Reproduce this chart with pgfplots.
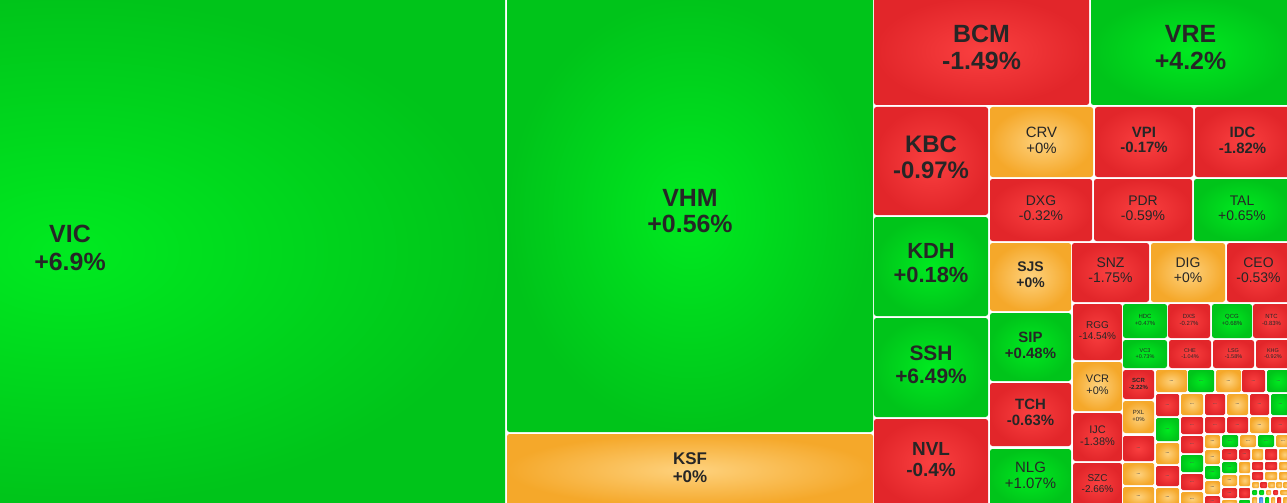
\documentclass[border=0pt]{standalone}
\usepackage{pgfplots}
\pgfplotsset{compat=1.18}
\usepackage{fontspec}
\setmainfont{Liberation Sans}
\definecolor{Gin}{RGB}{0,234,32}
\definecolor{Gout}{RGB}{0,196,26}
\definecolor{Rin}{RGB}{250,64,64}
\definecolor{Rout}{RGB}{226,38,42}
\definecolor{Oin}{RGB}{254,210,126}
\definecolor{Oout}{RGB}{245,168,42}
\definecolor{Bin}{RGB}{110,180,250}
\definecolor{Bout}{RGB}{60,140,230}
\definecolor{txt}{RGB}{38,38,38}
% tile: x1 y1 x2 y2 colour size skip weight label
\newcommand{\T}[9]{%
  \addplot[draw=none, shade, shading=radial, inner color=#5in, outer color=#5out, rounded corners=2.5]
    coordinates {(#1,#2) (#3,#2) (#3,#4) (#1,#4)} -- cycle;
  \path (axis cs:#1,#2) -- (axis cs:#3,#4) node[midway, align=center, text=txt, inner sep=0pt,
    yshift=#6*0.14pt, font=\fontsize{#6}{#7}\selectfont#8] {#9};}
% small tile with dots
\newcommand{\D}[5]{%
  \addplot[draw=none, shade, shading=radial, inner color=#5in, outer color=#5out, rounded corners=1.5]
    coordinates {(#1,#2) (#3,#2) (#3,#4) (#1,#4)} -- cycle;
  \path (axis cs:#1,#2) -- (axis cs:#3,#4) node[midway, text=txt!80, inner sep=0pt,
    font=\fontsize{4.5}{5}\selectfont\bfseries] {...};}
% tiny tile, no label
\newcommand{\E}[5]{%
  \addplot[draw=none, shade, shading=radial, inner color=#5in, outer color=#5out, rounded corners=1]
    coordinates {(#1,#2) (#3,#2) (#3,#4) (#1,#4)} -- cycle;}
\begin{document}
\begin{tikzpicture}
\begin{axis}[scale only axis, width=1287bp, height=503bp,
  xmin=0, xmax=1287, ymin=0, ymax=503, y dir=reverse, hide axis, clip=true]
\addplot[fill=white, draw=none] coordinates {(0,0) (1287,0) (1287,503) (0,503)} -- cycle;
% large tiles
\T{-365}{-3}{505}{506}{G}{25}{28}{\bfseries}{VIC\\+6.9\%}
\T{507}{-3}{873}{432}{G}{25}{27}{\bfseries}{VHM\\+0.56\%}
\T{507}{434}{873}{506}{O}{17}{18}{\bfseries}{KSF\\+0\%}
\T{874}{-3}{1089}{105}{R}{25}{27}{\bfseries}{BCM\\-1.49\%}
\T{1091}{-3}{1290}{105}{G}{25}{27}{\bfseries}{VRE\\+4.2\%}
\T{874}{107}{988}{215}{R}{24}{26}{\bfseries}{KBC\\-0.97\%}
\T{874}{217}{988}{316}{G}{22}{24}{\bfseries}{KDH\\+0.18\%}
\T{874}{318}{988}{417}{G}{21}{23}{\bfseries}{SSH\\+6.49\%}
\T{874}{419}{988}{506}{R}{19}{21}{\bfseries}{NVL\\-0.4\%}
% medium tiles
\T{990}{107}{1093}{177}{O}{15}{16}{}{CRV\\+0\%}
\T{1095}{107}{1193}{177}{R}{15}{16}{\bfseries}{VPI\\-0.17\%}
\T{1195}{107}{1290}{177}{R}{15}{16}{\bfseries}{IDC\\-1.82\%}
\T{990}{179}{1092}{241}{R}{14}{15}{}{DXG\\-0.32\%}
\T{1094}{179}{1192}{241}{R}{14}{15}{}{PDR\\-0.59\%}
\T{1194}{179}{1290}{241}{G}{14}{15}{}{TAL\\+0.65\%}
\T{990}{243}{1071}{311}{O}{14}{16}{\bfseries}{SJS\\+0\%}
\T{1072}{243}{1149}{302}{R}{14}{15}{}{SNZ\\-1.75\%}
\T{1151}{243}{1225}{302}{O}{14}{15}{}{DIG\\+0\%}
\T{1227}{243}{1290}{302}{R}{14}{15}{}{CEO\\-0.53\%}
\T{990}{313}{1071}{381}{G}{15}{16}{\bfseries}{SIP\\+0.48\%}
\T{990}{383}{1071}{446}{R}{15}{16}{\bfseries}{TCH\\-0.63\%}
\T{990}{449}{1071}{506}{G}{15}{16}{}{NLG\\+1.07\%}
% small tiles
\T{1073}{304}{1122}{360}{R}{10}{11}{}{RGG\\-14.54\%}
\T{1123}{304}{1167}{338}{G}{6}{7}{}{HDC\\+0.47\%}
\T{1168}{304}{1210}{338}{R}{6}{7}{}{DXS\\-0.27\%}
\T{1212}{304}{1252}{338}{G}{6}{7}{}{QCG\\+0.68\%}
\T{1253}{304}{1290}{338}{R}{6}{7}{}{NTC\\-0.83\%}
\T{1123}{340}{1167}{368}{G}{5.5}{6}{}{VC3\\+0.73\%}
\T{1169}{340}{1211}{368}{R}{5.5}{6}{}{CHE\\-1.04\%}
\T{1213}{340}{1254}{368}{R}{5.5}{6}{}{LSG\\-1.58\%}
\T{1256}{340}{1290}{368}{R}{5.5}{6}{}{KHG\\-0.92\%}
\T{1073}{362}{1122}{411}{O}{11}{12}{}{VCR\\+0\%}
\T{1073}{413}{1122}{461}{R}{11}{12}{}{IJC\\-1.38\%}
\T{1073}{463}{1122}{506}{R}{10}{11}{}{SZC\\-2.66\%}
\T{1123}{370}{1154}{399}{R}{6}{7}{\bfseries}{SCR\\-2.22\%}
\T{1123}{401}{1154}{433}{O}{6}{7}{}{PXL\\+0\%}
\D{1123}{436}{1154}{461}{R}
\D{1123}{463}{1154}{485}{O}
\D{1123}{487}{1154}{506}{O}
% row 370-392
\D{1156}{370}{1187}{392}{O}
\D{1188}{370}{1214}{392}{G}
\D{1216}{370}{1241}{392}{O}
\D{1242}{370}{1265}{392}{R}
\D{1267}{370}{1290}{392}{G}
% row 394-415
\D{1156}{394}{1179}{416}{R}
\D{1181}{394}{1203}{415}{O}
\D{1205}{394}{1225}{415}{R}
\D{1227}{394}{1248}{415}{O}
\D{1250}{394}{1269}{415}{R}
\D{1271}{394}{1290}{415}{G}
% row 417-433
\D{1156}{418}{1179}{441}{G}
\D{1181}{417}{1203}{434}{R}
\D{1205}{417}{1225}{433}{R}
\D{1227}{417}{1248}{433}{R}
\D{1250}{417}{1269}{433}{O}
\D{1271}{417}{1290}{433}{R}
% row 435-448
\D{1156}{443}{1179}{464}{O}
\D{1181}{436}{1203}{453}{R}
\D{1205}{435}{1220}{448}{O}
\D{1222}{435}{1238}{447}{G}
\D{1240}{435}{1256}{447}{O}
\D{1258}{435}{1274}{447}{G}
\D{1276}{435}{1290}{447}{O}
% lower columns
\D{1156}{466}{1179}{486}{R}
\D{1156}{488}{1179}{506}{O}
\D{1181}{455}{1203}{472}{G}
\D{1181}{474}{1203}{490}{R}
\D{1181}{492}{1203}{506}{O}
\D{1205}{450}{1220}{464}{O}
\D{1205}{466}{1220}{479}{G}
\D{1205}{481}{1220}{494}{O}
\D{1205}{496}{1220}{506}{R}
\D{1222}{449}{1237}{460}{R}
\D{1222}{462}{1237}{473}{G}
\D{1222}{475}{1237}{486}{O}
\D{1222}{488}{1237}{498}{R}
\E{1222}{500}{1237}{506}{O}
\D{1239}{449}{1250}{460}{R}
\E{1239}{462}{1250}{473}{O}
\E{1239}{475}{1250}{486}{O}
\E{1239}{488}{1250}{498}{R}
\E{1239}{500}{1250}{506}{G}
\E{1252}{449}{1263}{460}{O}
\E{1252}{462}{1263}{470}{R}
\E{1252}{472}{1263}{480}{R}
\E{1265}{449}{1277}{460}{R}
\E{1265}{462}{1277}{470}{R}
\E{1265}{472}{1277}{480}{O}
\E{1279}{449}{1290}{460}{O}
\E{1279}{462}{1290}{470}{O}
\E{1279}{472}{1290}{480}{O}
% tiny tiles
\E{1252}{482}{1259}{488}{O}
\E{1260}{482}{1267}{488}{R}
\E{1268}{482}{1275}{488}{O}
\E{1276}{482}{1282}{488}{O}
\E{1283}{482}{1290}{488}{O}
\E{1252}{490}{1257}{495}{G}
\E{1259}{490}{1264}{495}{G}
\E{1266}{490}{1271}{495}{O}
\E{1273}{490}{1278}{495}{R}
\E{1280}{490}{1290}{495}{O}
\E{1252}{497}{1257}{506}{O}
\E{1259}{497}{1263}{506}{B}
\E{1265}{497}{1269}{506}{G}
\E{1271}{497}{1275}{506}{O}
\E{1277}{497}{1281}{506}{R}
\E{1283}{497}{1290}{506}{O}
\end{axis}
\pgfresetboundingbox
\path[use as bounding box] (current axis.south west) rectangle (current axis.north east);
\end{tikzpicture}
\end{document}
